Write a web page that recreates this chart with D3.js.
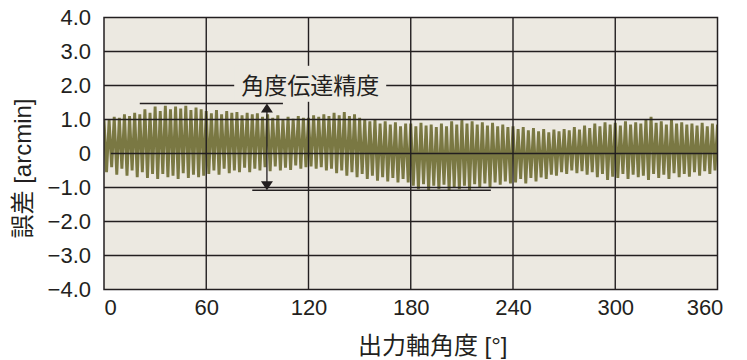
<!DOCTYPE html>
<html><head><meta charset="utf-8">
<script src="https://cdn.jsdelivr.net/npm/d3@7"></script>
<style>
html,body{margin:0;padding:0;background:#fff;}
svg{display:block;}
</style></head>
<body>
<svg id="chart" width="747" height="360"></svg>
<script>
// ---- data ----
const xTicks = [0, 60, 120, 180, 240, 300, 360];
const xTickLabels = ["0", "60", "120", "180", "240", "300", "360"];
const yTicks = [4, 3, 2, 1, 0, -1, -2, -3, -4];
const yTickLabels = ["4.0", "3.0", "2.0", "1.0", "0", "\u22121.0", "\u22122.0", "\u22123.0", "\u22124.0"];
const xTitle = "出力軸角度 [°]";
const yTitle = "誤差 [arcmin]";
const annotationText = "角度伝達精度";

const cyclePeriodDeg = 3; // one tooth-mesh cycle
// upper excursions of each cycle (arcmin)
const peaks = [
  1.00, 0.98, 1.08, 1.05, 1.15, 1.10, 1.20, 1.15, 1.30, 1.20, 1.38, 1.25, 1.40, 1.30, 1.38, 1.32, 1.40, 1.28, 1.35, 1.30,
  1.25, 1.18, 1.28, 1.15, 1.25, 1.20, 1.22, 1.12, 1.20, 1.15, 1.18, 1.08, 1.15, 1.05, 1.12, 1.00, 1.08, 1.02, 1.10, 1.05,
  1.05, 1.12, 1.08, 1.15, 1.10, 1.20, 1.12, 1.22, 1.10, 1.15, 1.05, 1.00, 0.95, 1.00, 0.88, 0.95, 0.85, 0.92, 0.80, 0.88,
  0.88, 0.80, 0.90, 0.82, 0.85, 0.78, 0.88, 0.80, 0.95, 0.85, 0.98, 0.88, 0.95, 0.85, 0.92, 0.82, 0.90, 0.80, 0.85, 0.78,
  0.80, 0.72, 0.78, 0.68, 0.75, 0.65, 0.72, 0.62, 0.70, 0.65, 0.72, 0.68, 0.78, 0.70, 0.82, 0.75, 0.88, 0.80, 0.92, 0.85,
  0.90, 0.82, 0.95, 0.85, 0.92, 0.88, 1.00, 1.08, 0.90, 0.95, 0.85, 1.00, 0.88, 0.92, 0.85, 0.88, 0.82, 0.90, 0.80, 0.88,
  0.85
];
// lower excursions of each cycle (arcmin)
const troughs = [
  -0.55, -0.40, -0.62, -0.45, -0.65, -0.50, -0.70, -0.55, -0.72, -0.60, -0.75, -0.60, -0.70, -0.65, -0.75, -0.58, -0.72, -0.62, -0.70, -0.65,
  -0.60, -0.50, -0.62, -0.45, -0.58, -0.50, -0.55, -0.42, -0.55, -0.45, -0.50, -0.40, -0.52, -0.38, -0.50, -0.42, -0.48, -0.35, -0.45, -0.40,
  -0.38, -0.45, -0.40, -0.50, -0.45, -0.58, -0.50, -0.65, -0.55, -0.70, -0.60, -0.75, -0.65, -0.80, -0.70, -0.82, -0.72, -0.85, -0.75, -0.85,
  -0.95, -1.05, -0.90, -1.08, -0.95, -1.05, -0.92, -1.08, -0.98, -1.05, -0.95, -1.08, -0.90, -1.00, -0.88, -0.98, -0.85, -0.92, -0.82, -0.88,
  -0.85, -0.75, -0.88, -0.72, -0.82, -0.70, -0.75, -0.62, -0.65, -0.55, -0.60, -0.50, -0.58, -0.52, -0.62, -0.55, -0.70, -0.60, -0.78, -0.68,
  -0.72, -0.60, -0.75, -0.62, -0.70, -0.65, -0.78, -0.60, -0.72, -0.62, -0.75, -0.58, -0.70, -0.60, -0.68, -0.55, -0.65, -0.52, -0.60, -0.50
];
// annotation (angle in deg, value in arcmin)
const upperRefLine = {from: 21, to: 105, value: 1.47};
const lowerRefLine = {from: 87, to: 227, value: -1.08};
const arrowAngle = 95.6;
const labelPos = {angle: 121, value: 2.05};
const zeroLineStart = 4;

// ---- build sample list ----
const samples = [];
peaks.forEach((p, i) => {
  samples.push({angle: i * cyclePeriodDeg, value: p});
  if (i < troughs.length) samples.push({angle: i * cyclePeriodDeg + cyclePeriodDeg / 2, value: troughs[i]});
});

// ---- layout ----
const svg = d3.select("#chart");
const plotLeft = 104, plotRight = 717.5, plotTop = 17.5, plotBottom = 289.5;
const x = d3.scaleLinear().domain([0, 360]).range([plotLeft, plotRight]);
const y = d3.scaleLinear().domain([-4, 4]).range([plotBottom, plotTop]);
const ink = "#231f20";
const latinFont = "'Liberation Sans', Arial, 'Noto Sans CJK JP', sans-serif";

svg.append("rect").attr("x", plotLeft).attr("y", plotTop)
  .attr("width", plotRight - plotLeft).attr("height", plotBottom - plotTop)
  .attr("fill", "#ece9e1");

// data
const clipId = "plotclip";
svg.append("clipPath").attr("id", clipId).append("rect")
  .attr("x", plotLeft).attr("y", plotTop).attr("width", plotRight - plotLeft).attr("height", plotBottom - plotTop);
const line = d3.line().x(d => x(d.angle)).y(d => y(d.value));
svg.append("path").datum(samples)
  .attr("clip-path", `url(#${clipId})`)
  .attr("d", line)
  .attr("fill", "none")
  .attr("stroke", "#7a7843")
  .attr("stroke-width", 2.9)
  .attr("stroke-linejoin", "bevel");

// grid
const grid = svg.append("g").attr("stroke", ink).attr("stroke-width", 1.4);
yTicks.filter(v => v !== 0 && v !== 4 && v !== -4).forEach(v => {
  grid.append("line").attr("x1", plotLeft).attr("x2", plotRight).attr("y1", y(v)).attr("y2", y(v));
});
grid.append("line").attr("x1", x(zeroLineStart)).attr("x2", plotRight).attr("y1", y(0)).attr("y2", y(0));
xTicks.filter(v => v !== 0 && v !== 360).forEach(v => {
  grid.append("line").attr("y1", plotTop).attr("y2", plotBottom).attr("x1", x(v)).attr("x2", x(v));
});
svg.append("rect").attr("x", plotLeft).attr("y", plotTop)
  .attr("width", plotRight - plotLeft).attr("height", plotBottom - plotTop)
  .attr("fill", "none").attr("stroke", ink).attr("stroke-width", 1.5);

// annotation
const ann = svg.append("g");
ann.append("line").attr("x1", x(upperRefLine.from)).attr("x2", x(upperRefLine.to))
  .attr("y1", y(upperRefLine.value)).attr("y2", y(upperRefLine.value))
  .attr("stroke", ink).attr("stroke-width", 1.4);
ann.append("line").attr("x1", x(lowerRefLine.from)).attr("x2", x(lowerRefLine.to))
  .attr("y1", y(lowerRefLine.value)).attr("y2", y(lowerRefLine.value))
  .attr("stroke", ink).attr("stroke-width", 1.4);
const ax = x(arrowAngle), ay1 = y(upperRefLine.value), ay2 = y(lowerRefLine.value);
ann.append("line").attr("x1", ax).attr("x2", ax).attr("y1", ay1 + 6).attr("y2", ay2 - 6)
  .attr("stroke", ink).attr("stroke-width", 1.3);
ann.append("path").attr("d", `M${ax},${ay1} l-6,9 l12,0 Z`).attr("fill", ink);
ann.append("path").attr("d", `M${ax},${ay2} l-6,-9 l12,0 Z`).attr("fill", ink);

const lbl = ann.append("text")
  .attr("x", x(labelPos.angle)).attr("y", y(labelPos.value))
  .attr("text-anchor", "middle").attr("dominant-baseline", "central")
  .attr("font-family", "'Noto Sans CJK JP', sans-serif").attr("font-size", 23)
  .attr("fill", ink).text(annotationText);
const bb = lbl.node().getBBox();
ann.insert("rect", "text").attr("x", bb.x - 7).attr("y", bb.y - 1)
  .attr("width", bb.width + 14).attr("height", bb.height + 2).attr("fill", "#ece9e1");

// axes
const yAxis = svg.append("g").attr("transform", `translate(${plotLeft},0)`)
  .call(d3.axisLeft(y).tickValues(yTicks).tickSize(0).tickPadding(13)
    .tickFormat((d, i) => yTickLabels[i]));
yAxis.select(".domain").remove();
yAxis.selectAll("text").attr("font-family", latinFont).attr("font-size", 22).attr("fill", ink);

const xAxis = svg.append("g").attr("transform", `translate(0,${plotBottom})`)
  .call(d3.axisBottom(x).tickValues(xTicks).tickSize(0).tickPadding(10)
    .tickFormat((d, i) => xTickLabels[i]));
xAxis.select(".domain").remove();
xAxis.selectAll("text").attr("font-family", latinFont).attr("font-size", 22).attr("fill", ink)
  .attr("dx", (d, i) => i === 0 ? 6 : (i === xTicks.length - 1 ? -13 : 0));

// titles
svg.append("text").attr("x", (plotLeft + plotRight) / 2 + 22).attr("y", 345)
  .attr("text-anchor", "middle").attr("dominant-baseline", "central")
  .attr("font-family", latinFont).attr("font-size", 24).attr("fill", ink).text(xTitle);
svg.append("text").attr("transform", `translate(22,${(plotTop + plotBottom) / 2 + 15}) rotate(-90)`)
  .attr("text-anchor", "middle").attr("dominant-baseline", "central")
  .attr("font-family", latinFont).attr("font-size", 24).attr("fill", ink).text(yTitle);
</script>
</body></html>
